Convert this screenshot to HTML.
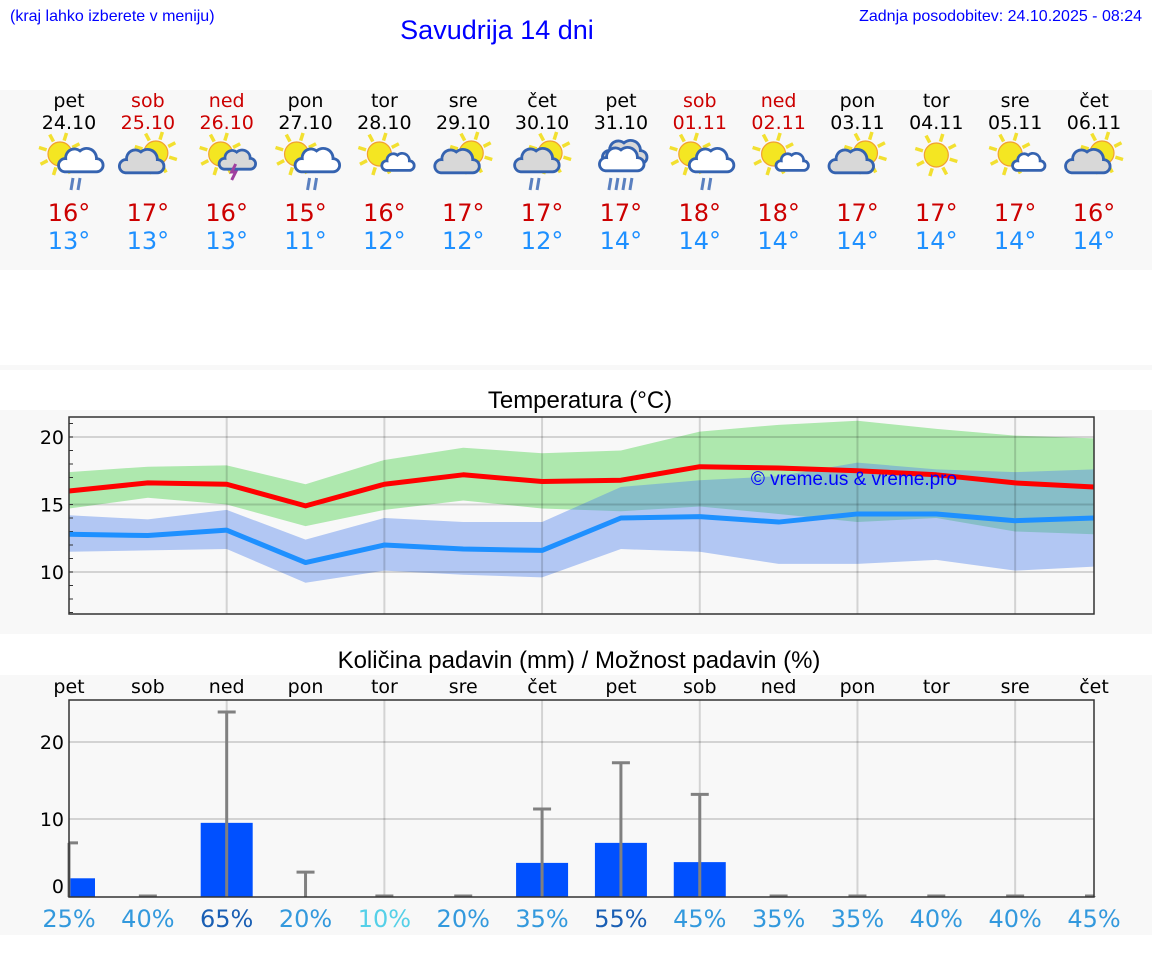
<!DOCTYPE html>
<html><head><meta charset="utf-8">
<style>
html,body{margin:0;padding:0;background:#fff;}
svg{display:block;}
.dj{font-family:"DejaVu Sans","Liberation Sans",sans-serif;}
.lb{font-family:"Liberation Sans",Arial,sans-serif;}
</style></head>
<body>
<svg id="s" width="1152" height="975" viewBox="0 0 1152 975" xmlns="http://www.w3.org/2000/svg">
<rect x="0" y="90" width="1152" height="180" fill="#f8f8f8"/>
<rect x="0" y="365" width="1152" height="5" fill="#f8f8f8"/>
<rect x="0" y="410" width="1152" height="224" fill="#f8f8f8"/>
<rect x="0" y="675" width="1152" height="260" fill="#f8f8f8"/>
<text x="10" y="21" class="lb" font-size="16" fill="#0000ff">(kraj lahko izberete v meniju)</text>
<text x="497" y="39" class="lb" font-size="27" fill="#0000ff" text-anchor="middle">Savudrija 14 dni</text>
<text x="1142" y="21" class="lb" font-size="16" fill="#0000ff" text-anchor="end">Zadnja posodobitev: 24.10.2025 - 08:24</text>
<text x="580" y="408" class="lb" font-size="24" fill="#000" text-anchor="middle">Temperatura (°C)</text>
<text x="579" y="668" class="lb" font-size="24" fill="#000" text-anchor="middle">Količina padavin (mm) / Možnost padavin (%)</text>
<g id="hdr"></g>
<g id="temp"></g>
<g id="prec"></g>
<text x="854" y="485" class="lb" font-size="19" fill="#0000ff" text-anchor="middle">© vreme.us &amp; vreme.pro</text>
</svg>
<script>
const dayNames=["pet","sob","ned","pon","tor","sre","čet","pet","sob","ned","pon","tor","sre","čet"];
const dates=["24.10","25.10","26.10","27.10","28.10","29.10","30.10","31.10","01.11","02.11","03.11","04.11","05.11","06.11"];
const weekend=[0,1,1,0,0,0,0,0,1,1,0,0,0,0];
const icons=["scr","cs","st","scr","ssc","cs","csr","rr","scr","ssc","cs","s","ssc","cs"];
const hiTemps=[16,17,16,15,16,17,17,17,18,18,17,17,17,16];
const loTemps=[13,13,13,11,12,12,12,14,14,14,14,14,14,14];
const maxLine=[16.0,16.6,16.5,14.9,16.5,17.2,16.7,16.8,17.8,17.7,17.5,17.2,16.6,16.3];
const maxHigh=[17.4,17.8,17.9,16.5,18.3,19.2,18.8,19.0,20.4,20.9,21.2,20.6,20.1,19.9];
const maxLow=[14.7,15.5,15.0,13.4,14.6,15.3,14.7,14.5,14.85,14.3,13.7,14.0,13.0,12.8];
const minLine=[12.8,12.7,13.1,10.7,12.0,11.7,11.6,14.0,14.1,13.7,14.3,14.3,13.8,14.0];
const minHigh=[14.2,13.9,14.6,12.4,14.0,13.7,13.7,16.3,16.8,17.1,18.1,17.6,17.4,17.6];
const minLow=[11.5,11.6,11.7,9.2,10.1,9.8,9.6,11.7,11.5,10.6,10.6,10.9,10.1,10.4];
const tempTicks=[10,15,20];
const precip=[2.3,0,9.5,0,0,0,4.3,6.9,4.4,0,0,0,0,0];
const precipMax=[6.9,0,23.9,3.1,0,0,11.3,17.3,13.2,0,0,0,0,0];
const precipTicks=[0,10,20];
const chance=[25,40,65,20,10,20,35,55,45,35,35,40,40,45];
const NS="http://www.w3.org/2000/svg";
function mk(p,t,a){const e=document.createElementNS(NS,t);for(const k in a)e.setAttribute(k,a[k]);p.appendChild(e);return e;}
const X0=69,X1=1094;
const xd=i=>X0+i*(X1-X0)/13;
const TY0=417,TY1=614;const ty=v=>437+(20-v)*13.5;
const PY0=700,PY1=897;const py=v=>896-v*7.7;

const hdr=document.getElementById('hdr');
function sun(g,x,y,r){
  for(let k=0;k<8;k++){const a=k*Math.PI/4+0.3;
    mk(g,'line',{x1:x+Math.cos(a)*(r+2),y1:y+Math.sin(a)*(r+2),x2:x+Math.cos(a)*(r+10),y2:y+Math.sin(a)*(r+10),stroke:'#f2e030','stroke-width':3.5});}
  mk(g,'circle',{cx:x,cy:y,r:r,fill:'#f4e622',stroke:'#f0a030','stroke-width':1.2});
}
function cloud(g,x,y,s,fill){
  const d=`M${x-14*s},${y+8*s} a${6*s},${6*s} 0 0 1 ${1*s},${-12*s} a${8*s},${8*s} 0 0 1 ${13*s},${-7*s} a${9*s},${9*s} 0 0 1 ${15*s},${7*s} a${6*s},${6*s} 0 0 1 ${0},${12*s} Z`;
  mk(g,'path',{d:d,fill:fill,stroke:'#3563b0','stroke-width':2.8});
}
function rain(g,x,y,n){for(let k=0;k<n;k++)mk(g,'line',{x1:x+k*7+2,y1:y,x2:x+k*7,y2:y+12,stroke:'#5a80c0','stroke-width':3});}
for(let i=0;i<14;i++){
  const x=xd(i);const c=weekend[i]?'#cc0000':'#000';
  const t1=mk(hdr,'text',{x:x,y:107,'text-anchor':'middle','font-size':19,fill:c,class:'dj'});t1.textContent=dayNames[i];
  
  
  const t2=mk(hdr,'text',{x:x,y:129,'text-anchor':'middle','font-size':19,fill:c,class:'dj'});t2.textContent=dates[i];
  
  
  const g=mk(hdr,'g',{});
  
  
  const ty2=158,tp=icons[i];
  if(tp==='scr'){sun(g,x-9,ty2-4,12);cloud(g,x+11,ty2+5,1.1,'#fff');rain(g,x+2,ty2+20,2);}
  else if(tp==='csr'){sun(g,x+8,ty2-5,12);cloud(g,x-6,ty2+5,1.1,'#d8d8d8');rain(g,x-12,ty2+20,2);}
  else if(tp==='cs'){sun(g,x+8,ty2-5,12);cloud(g,x-7,ty2+6,1.1,'#d8d8d8');}
  else if(tp==='st'){sun(g,x-6,ty2-4,12);cloud(g,x+10,ty2+4,0.9,'#d8d8d8');mk(g,'path',{d:`M${x+9},${ty2+6} l-4,8 h4 l-4,8`,stroke:'#a040a0','stroke-width':3,fill:'none'});}
  else if(tp==='ssc'){sun(g,x-5,ty2-4,12);cloud(g,x+13,ty2+6,0.8,'#fff');}
  else if(tp==='s'){sun(g,x,ty2-3,12);}
  else if(tp==='rr'){cloud(g,x+3,ty2-3,1.1,'#d8d8d8');cloud(g,x,ty2+4,1.1,'#fff');rain(g,x-12,ty2+20,4);}
  const h=mk(hdr,'text',{x:x,y:221,'text-anchor':'middle','font-size':24,fill:'#cc0000',class:'dj'});h.textContent=hiTemps[i]+'°';
  
  
  const l=mk(hdr,'text',{x:x,y:249,'text-anchor':'middle','font-size':24,fill:'#1e90ff',class:'dj'});l.textContent=loTemps[i]+'°';
  
  
}

const tg=document.getElementById('temp');
const bg=mk(tg,'rect',{x:X0,y:TY0,width:X1-X0,height:TY1-TY0,fill:'#f8f8f8'});


function band(hi,lo,fill,name){
  let d='M'+hi.map((v,i)=>xd(i)+','+ty(v)).join(' L')+' L'+lo.map((v,i)=>xd(i)+','+ty(v)).reverse().join(' L')+' Z';
  const p=mk(tg,'path',{d:d,fill:fill});
  
  
}
band(maxHigh,maxLow,'rgba(100,215,100,0.5)','max-temp-range');
band(minHigh,minLow,'rgba(80,130,235,0.42)','min-temp-range');
for(const v of tempTicks){
  const gl=mk(tg,'line',{x1:X0,x2:X1,y1:ty(v),y2:ty(v),stroke:'rgba(0,0,0,0.15)','stroke-width':2});
  
  
  const t=mk(tg,'text',{x:X0-5,y:ty(v)+7,'text-anchor':'end','font-size':19,class:'dj'});t.textContent=v;
  
  
}
for(let v=7;v<=21;v++){mk(tg,'line',{x1:X0,x2:X0+4,y1:ty(v),y2:ty(v),stroke:'#333','stroke-width':1});}
for(let i=2;i<13;i+=2){
  const vl=mk(tg,'line',{x1:xd(i),x2:xd(i),y1:TY0,y2:TY1,stroke:'rgba(0,0,0,0.15)','stroke-width':2});
  
  
}
function line(arr,col,name){
  const p=mk(tg,'polyline',{points:arr.map((v,i)=>xd(i)+','+ty(v)).join(' '),fill:'none',stroke:col,'stroke-width':5,'stroke-linejoin':'round'});
  
  
}
line(minLine,'#1e90ff','min-temp-line');
line(maxLine,'#ff0000','max-temp-line');
mk(tg,'rect',{x:X0,y:TY0,width:X1-X0,height:TY1-TY0,fill:'none',stroke:'#333','stroke-width':1.5});

const pg=document.getElementById('prec');
const pb=mk(pg,'rect',{x:X0,y:PY0,width:X1-X0,height:PY1-PY0,fill:'#f8f8f8'});


for(const v of precipTicks){
  if(v>0){const gl=mk(pg,'line',{x1:X0,x2:X1,y1:py(v),y2:py(v),stroke:'rgba(0,0,0,0.15)','stroke-width':2});
  
  }
  const t=mk(pg,'text',{x:X0-5,y:(v===0?py(v)-3:py(v)+7),'text-anchor':'end','font-size':19,class:'dj'});t.textContent=v;
  
  
}
for(let i=2;i<13;i+=2){mk(pg,'line',{x1:xd(i),x2:xd(i),y1:PY0,y2:PY1,stroke:'rgba(0,0,0,0.15)','stroke-width':2});}
for(let i=0;i<14;i++){
  const x=xd(i);
  const dn=mk(pg,'text',{x:x,y:693,'text-anchor':'middle','font-size':19,class:'dj'});dn.textContent=dayNames[i];
  
  
  if(precip[i]>0){
    const bx=Math.max(X0,x-26),bw=Math.min(x+26,X1)-bx;
    const b=mk(pg,'rect',{x:bx,y:py(precip[i]),width:bw,height:PY1-py(precip[i]),fill:'#0050ff'});
    
    
  }
  const e=mk(pg,'g',{});
  
  
  mk(e,'line',{x1:x,x2:x,y1:PY1,y2:py(precipMax[i]),stroke:'#808080','stroke-width':3});
  mk(e,'line',{x1:Math.max(X0,x-9),x2:Math.min(X1,x+9),y1:py(precipMax[i]),y2:py(precipMax[i]),stroke:'#808080','stroke-width':3});
  const c=chance[i];const col=c>=50?'#1a5fb4':(c<=10?'#55d0e8':'#3399dd');
  const ct=mk(pg,'text',{x:x,y:927,'text-anchor':'middle','font-size':24,fill:col,class:'dj'});ct.textContent=c+'%';
  
  
}
mk(pg,'rect',{x:X0,y:PY0,width:X1-X0,height:PY1-PY0,fill:'none',stroke:'#333','stroke-width':1.5});
</script>
</body></html>
